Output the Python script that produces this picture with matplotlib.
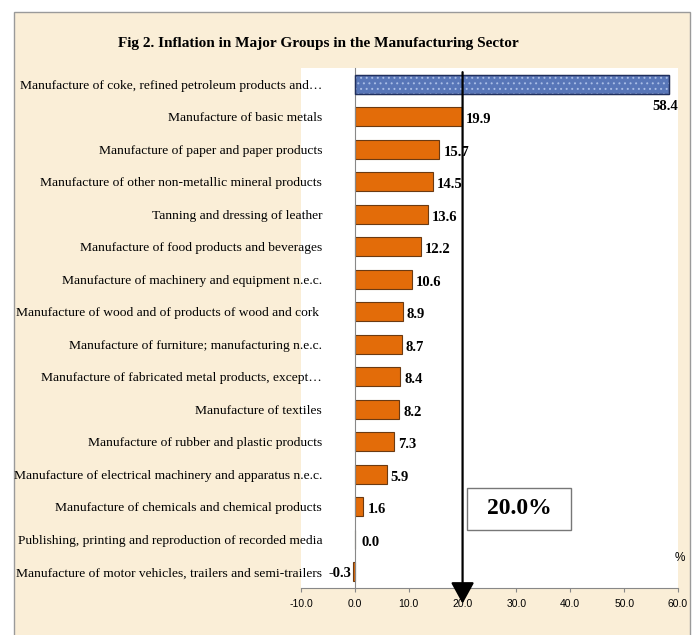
import matplotlib

matplotlib.use("Agg")
import matplotlib.pyplot as plt
from matplotlib.patches import Rectangle
from matplotlib.transforms import blended_transform_factory

# data, top to bottom as shown in the chart
CATEGORIES = [
    "Manufacture of coke, refined petroleum products and\u2026",
    "Manufacture of basic metals",
    "Manufacture of paper and paper products",
    "Manufacture of other non-metallic mineral products",
    "Tanning and dressing of leather",
    "Manufacture of food products and beverages",
    "Manufacture of machinery and equipment n.e.c.",
    "Manufacture of wood and of products of wood and cork ",
    "Manufacture of furniture; manufacturing n.e.c.",
    "Manufacture of fabricated metal products, except\u2026",
    "Manufacture of textiles",
    "Manufacture of rubber and plastic products",
    "Manufacture of electrical machinery and apparatus n.e.c.",
    "Manufacture of chemicals and chemical products",
    "Publishing, printing and reproduction of recorded media",
    "Manufacture of motor vehicles, trailers and semi-trailers",
]
INFLATION = [58.4, 19.9, 15.7, 14.5, 13.6, 12.2, 10.6, 8.9, 8.7, 8.4, 8.2, 7.3, 5.9, 1.6, 0.0, -0.3]
THRESHOLD = 20.0
X_TICKS = [-10, 0, 10, 20, 30, 40, 50, 60]

SERIF = ["Liberation Serif", "DejaVu Serif"]
NARROW = ["Liberation Sans Narrow", "Liberation Sans", "DejaVu Sans"]

BG = "#faeed7"
ORANGE = "#e36c09"
BLUE = "#5876b8"

plt.rcParams["hatch.linewidth"] = 0.7

fig = plt.figure(figsize=(6.96, 6.35), dpi=100)
fig.patch.set_facecolor("white")
fig.patches.append(
    Rectangle((14 / 696, -0.02), 676 / 696, 1.02 - 12 / 635, transform=fig.transFigure,
              facecolor=BG, edgecolor="#9a9a9a", linewidth=1.0, zorder=-5)
)

ax = fig.add_axes([301 / 696, 1 - 588 / 635, 377 / 696, 520 / 635])
ax.set_facecolor("white")

ypos = list(range(len(CATEGORIES)))
colors = [ORANGE] * len(INFLATION)
colors[0] = BLUE
ax.barh(ypos, INFLATION, height=0.58, color=colors, edgecolor="#6b3a12", linewidth=0.8, zorder=2)
# speckled texture and dark outline on the top bar
ax.barh(0, INFLATION[0], height=0.58, color="none", edgecolor="#a9bde6", hatch="...",
        linewidth=0, zorder=2.5)
ax.barh(0, INFLATION[0], height=0.58, color="none", edgecolor="#1f2f5f", linewidth=1.0, zorder=2.6)

# spines first: moving a spine resets the ticks
for side in ("top", "right"):
    ax.spines[side].set_visible(False)
ax.spines["left"].set_position(("data", 0))
ax.spines["left"].set_color("#888888")
ax.spines["bottom"].set_color("#888888")

ax.set_xlim(-10, 60)
ax.set_ylim(len(CATEGORIES) - 0.5, -0.5)
ax.tick_params(axis="x", direction="out", length=3, color="#888888", pad=5)
ax.tick_params(axis="y", length=0, pad=23.5)
ax.set_xticks(X_TICKS)
ax.set_xticklabels([f"{t:.1f}" for t in X_TICKS], fontfamily=NARROW, fontsize=7.5)
ax.set_yticks(ypos)
ax.set_yticklabels(CATEGORIES, fontfamily=SERIF, fontsize=9.7)

# value labels
for i, v in enumerate(INFLATION):
    if i == 0:
        ax.text(60, i + 0.5, f"{v:.1f}", ha="right", va="top", family=SERIF,
                fontsize=10.5, fontweight="bold", zorder=4)
    elif v < 0:
        ax.annotate(f"{v:.1f}", (v, i), xytext=(-1, -1), textcoords="offset points",
                    ha="right", va="center", family=SERIF, fontsize=10.5, fontweight="bold")
    else:
        ax.annotate(f"{v:.1f}", (v, i), xytext=(3 if v > 0 else 5, -2), textcoords="offset points",
                    ha="left", va="center", family=SERIF, fontsize=10.5, fontweight="bold")

# threshold arrow
trans = blended_transform_factory(ax.transData, ax.transAxes)
ax.annotate("", xy=(THRESHOLD, -0.03), xytext=(THRESHOLD, 0.992), xycoords=trans, textcoords=trans,
            arrowprops=dict(arrowstyle="-|>,head_length=1.0,head_width=0.55", mutation_scale=13,
                            color="black", lw=1.6, shrinkA=0, shrinkB=0),
            annotation_clip=False, zorder=5)

fig.patches.append(
    Rectangle((467 / 696, 1 - 530 / 635), 104 / 696, 42 / 635, transform=fig.transFigure,
              facecolor="white", edgecolor="#777777", linewidth=1.0, zorder=6)
)
fig.text(519 / 696, 1 - 509 / 635, f"{THRESHOLD:.1f}%", ha="center", va="center",
         family=SERIF, fontsize=17, fontweight="bold", zorder=7)

fig.text(680 / 696, 1 - 558 / 635, "%", ha="center", va="center", family=NARROW, fontsize=8.5)

fig.text(318 / 696, 1 - 43 / 635, "Fig 2. Inflation in Major Groups in the Manufacturing Sector",
         ha="center", va="center", family=SERIF, fontsize=11, fontweight="bold")

fig.savefig("out.png", dpi=100)
